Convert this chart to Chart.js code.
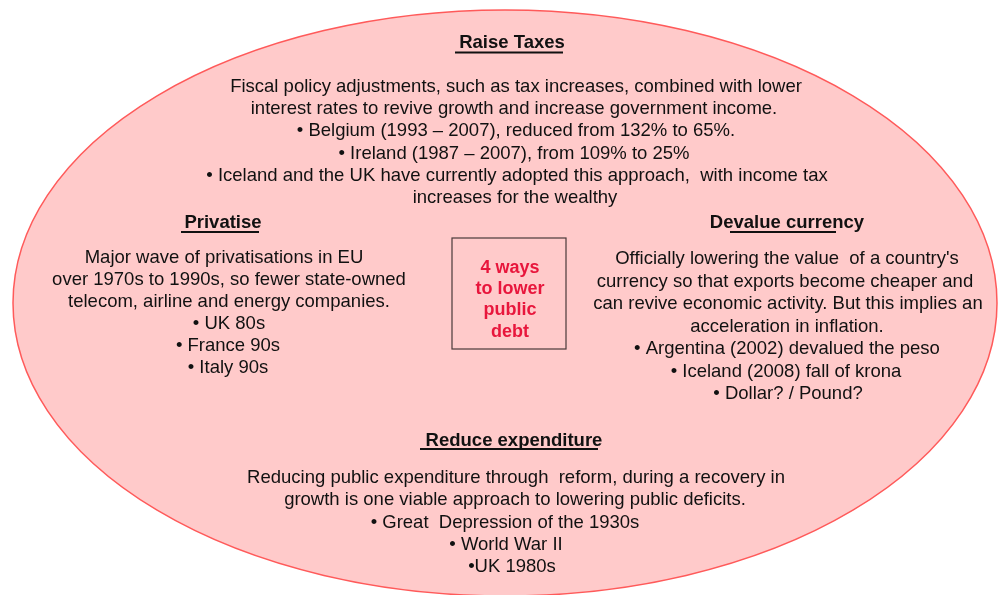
<!DOCTYPE html>
<html>
<head>
<meta charset="utf-8">
<script src="https://cdn.jsdelivr.net/npm/chart.js@4.4.1/dist/chart.umd.min.js"></script>
<style>
  html, body { margin: 0; padding: 0; background: #fff; }
  #c { display: block; }
</style>
</head>
<body>
<canvas id="c" width="1001" height="595"></canvas>
<script>
// Diagram content
const titles = ['Raise Taxes', 'Privatise', 'Devalue currency', 'Reduce expenditure'];
const raiseTaxesLines = [
  'Fiscal policy adjustments, such as tax increases, combined with lower',
  'interest rates to revive growth and increase government income.',
  '\u2022 Belgium (1993 \u2013 2007), reduced from 132% to 65%.',
  '\u2022 Ireland (1987 \u2013 2007), from 109% to 25%',
  '\u2022 Iceland and the UK have currently adopted this approach,  with income tax',
  'increases for the wealthy'
];
const privatiseLines = [
  'Major wave of privatisations in EU',
  'over 1970s to 1990s, so fewer state-owned',
  'telecom, airline and energy companies.',
  '\u2022 UK 80s',
  '\u2022 France 90s',
  '\u2022 Italy 90s'
];
const devalueLines = [
  'Officially lowering the value  of a country\'s',
  'currency so that exports become cheaper and',
  'can revive economic activity. But this implies an',
  'acceleration in inflation.',
  '\u2022 Argentina (2002) devalued the peso',
  '\u2022 Iceland (2008) fall of krona',
  '\u2022 Dollar? / Pound?'
];
const reduceLines = [
  'Reducing public expenditure through  reform, during a recovery in',
  'growth is one viable approach to lowering public deficits.',
  '\u2022 Great  Depression of the 1930s',
  '\u2022 World War II',
  '\u2022UK 1980s'
];
const centerLines = ['4 ways', 'to lower', 'public', 'debt'];

// Layout (in axis units, which equal page pixels here)
const blockLayout = [
  { lines: raiseTaxesLines, tx: 512, ty: 43, ux: [455, 563], uy: 52.5, lx: [516, 514, 516, 514, 517, 515], ly: 87, lh: 22.2 },
  { lines: privatiseLines, tx: 223, ty: 223, ux: [181, 259], uy: 232, lx: [224, 229, 229, 229, 228, 228], ly: 258, lh: 22 },
  { lines: devalueLines, tx: 787, ty: 223, ux: [730, 836], uy: 232, lx: [787, 785, 788, 787, 787, 786, 788], ly: 259, lh: 22.5 },
  { lines: reduceLines, tx: 514, ty: 441, ux: [420, 598], uy: 449, lx: [516, 515, 505, 506, 512], ly: 478, lh: 22.25 }
];
const ellipse = { cx: 505, cy: 303, rx: 492, ry: 293 };
const centerBox = { x0: 452, x1: 566, y0: 238, y1: 349, tx: 510, ty: 268, lh: 21.2 };

const FONT = '"Liberation Sans", Arial, sans-serif';

const diagramPlugin = {
  id: 'diagram',
  beforeDatasetsDraw(chart) {
    const { ctx, scales: { x, y } } = chart;
    const px = v => x.getPixelForValue(v);
    const py = v => y.getPixelForValue(v);

    // ellipse
    ctx.save();
    ctx.beginPath();
    ctx.ellipse(px(ellipse.cx), py(ellipse.cy),
      Math.abs(px(ellipse.cx + ellipse.rx) - px(ellipse.cx)),
      Math.abs(py(ellipse.cy + ellipse.ry) - py(ellipse.cy)), 0, 0, Math.PI * 2);
    ctx.fillStyle = '#ffcaca';
    ctx.fill();
    ctx.lineWidth = 1.5;
    ctx.strokeStyle = '#ff5a5a';
    ctx.stroke();

    // center box
    ctx.lineWidth = 1.2;
    ctx.strokeStyle = '#4a3a3a';
    ctx.strokeRect(px(centerBox.x0), py(centerBox.y0),
      px(centerBox.x1) - px(centerBox.x0), py(centerBox.y1) - py(centerBox.y0));
    ctx.fillStyle = '#e8163c';
    ctx.font = 'bold 18px ' + FONT;
    ctx.textAlign = 'center';
    ctx.textBaseline = 'middle';
    centerLines.forEach((t, i) => {
      ctx.fillText(t, px(centerBox.tx), py(centerBox.ty + i * centerBox.lh));
    });

    // text blocks
    ctx.fillStyle = '#111';
    blockLayout.forEach((b, i) => {
      ctx.font = 'bold 18.5px ' + FONT;
      ctx.fillText(titles[i], px(b.tx), py(b.ty));
      ctx.beginPath();
      ctx.lineWidth = 2;
      ctx.strokeStyle = '#111';
      ctx.moveTo(px(b.ux[0]), py(b.uy));
      ctx.lineTo(px(b.ux[1]), py(b.uy));
      ctx.stroke();
      ctx.font = '18.5px ' + FONT;
      b.lines.forEach((t, j) => {
        ctx.fillText(t, px(b.lx[j]), py(b.ly + j * b.lh));
      });
    });
    ctx.restore();
  }
};

new Chart(document.getElementById('c'), {
  type: 'scatter',
  data: { datasets: [] },
  options: {
    responsive: false,
    animation: false,
    layout: { padding: 0 },
    plugins: { legend: { display: false }, tooltip: { enabled: false } },
    scales: {
      x: { type: 'linear', min: 0, max: 1001, display: false },
      y: { type: 'linear', min: 0, max: 595, reverse: true, display: false }
    }
  },
  plugins: [diagramPlugin]
});
</script>
</body>
</html>
